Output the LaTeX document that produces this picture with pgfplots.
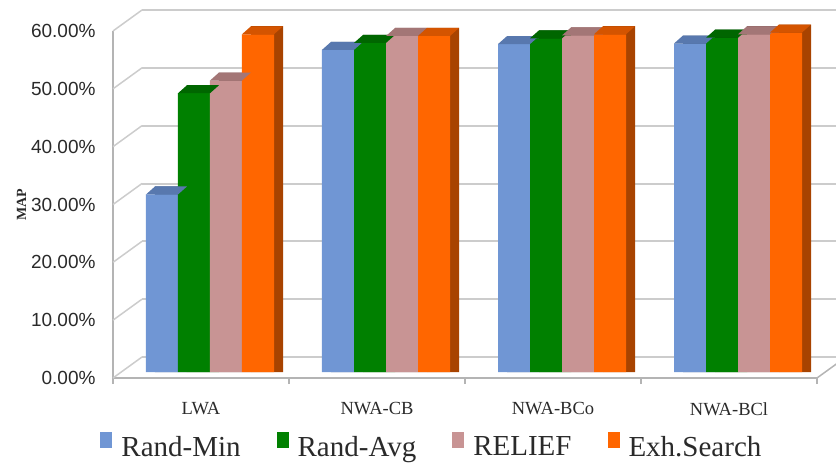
\documentclass[border=0pt]{standalone}
\usepackage{fontspec}
\setmainfont{Liberation Serif}
\newfontfamily\sansf{Liberation Sans}
\usepackage{pgfplots}
\usepackage{pgfplotstable}
\pgfplotsset{compat=1.18}

\definecolor{cA}{HTML}{7096D4}\definecolor{cAt}{HTML}{5878AE}\definecolor{cAs}{HTML}{46628F}
\definecolor{cB}{HTML}{008000}\definecolor{cBt}{HTML}{006600}\definecolor{cBs}{HTML}{004F00}
\definecolor{cC}{HTML}{C89494}\definecolor{cCt}{HTML}{A37676}\definecolor{cCs}{HTML}{8C6060}
\definecolor{cD}{HTML}{FF6600}\definecolor{cDt}{HTML}{D45400}\definecolor{cDs}{HTML}{A84300}
\definecolor{gridc}{HTML}{CCCCCC}
\definecolor{axisc}{HTML}{B4B4B4}
\definecolor{txt}{HTML}{2A2A2A}

\pgfplotstableread{
x rmin ravg relief exh
0 30.7 48.2 50.4 58.4
1 55.7 56.9 58.1 58.1
2 56.7 57.7 58.2 58.4
3 56.8 57.8 58.4 58.7
}\data

\newcommand\declaretop[2]{%
  \pgfdeclareplotmark{#1}{%
    \pgfpathmoveto{\pgfpoint{#2-16bp}{0bp}}%
    \pgfpathlineto{\pgfpoint{#2+16bp}{0bp}}%
    \pgfpathlineto{\pgfpoint{#2+25bp}{8bp}}%
    \pgfpathlineto{\pgfpoint{#2-7bp}{8bp}}%
    \pgfpathclose\pgfusepathqfill}}
\declaretop{topA}{-39bp}
\declaretop{topB}{-7bp}
\declaretop{topC}{25bp}
\declaretop{topD}{57bp}

\pgfplotsset{
  sq/.style={legend image code/.code={\fill[##1] (0bp,-7bp) rectangle (12bp,9bp);}},
  back/.style={ybar, bar width=32bp, draw=none, forget plot, yshift=6bp},
  front/.style={ybar, bar width=32bp, draw=none, yshift=6bp, sq},
  top/.style={only marks, forget plot, yshift=6bp},
}

\begin{document}
\begin{tikzpicture}
\begin{axis}[
  scale only axis, width=704bp, height=347bp,
  xmin=-0.5, xmax=3.5, ymin=0, ymax=60,
  clip=false,
  axis lines*=left,
  axis line style={-, draw=axisc, line width=1.5bp},
  xtick={-0.5,0.5,1.5,2.5,3.5},
  x tick label as interval,
  xticklabels={LWA,NWA-CB,NWA-BCo,NWA-BCl},
  ytick={0,10,20,30,40,50,60},
  ymajorgrids,
  major grid style={draw=gridc, line width=2bp, xshift=29bp, yshift=21bp},
  tick align=outside,
  major tick length=6bp,
  xtick style={draw=axisc, line width=1.5bp},
  ytick style={draw=none},
  yticklabel={\pgfmathprintnumber[fixed,fixed zerofill,precision=2]{\tick}\%},
  yticklabel style={font=\sansf\fontsize{19bp}{22bp}\selectfont, text=txt, xshift=-8bp, /pgf/number format/assume math mode=true},
  xticklabel style={font=\fontsize{18.5bp}{21bp}\selectfont, text=txt, yshift=-15bp},
  ylabel={MAP},
  ylabel style={font=\bfseries\fontsize{14bp}{16bp}\selectfont, text=txt, yshift=-2bp},
  legend columns=4,
  legend style={at={(0.453,0)}, anchor=north, yshift=-52bp, draw=none, fill=none,
    font=\fontsize{29bp}{33bp}\selectfont, text=txt,
    /tikz/every odd column/.style={column sep=7bp},
    /tikz/every even column/.style={column sep=34bp}},
]
\pgfplotsinvokeforeach{0,10,20,30,40,50,60}{\draw[gridc, line width=1.5bp] (axis cs:-0.5,#1) -- ++(29bp,21bp);}
\draw[axisc, line width=1.5bp] (axis cs:3.5,0) -- ++(29bp,21bp);

\addplot[back, bar shift=-30bp, fill=cAs] table[x=x, y expr=\thisrow{rmin}+1.385]{\data};
\addplot[front, bar shift=-39bp, fill=cA] table[x=x, y=rmin]{\data};
\addlegendentry{Rand-Min}
\addplot[top, mark=topA, color=cAt] table[x=x, y=rmin]{\data};

\addplot[back, bar shift=2bp, fill=cBs] table[x=x, y expr=\thisrow{ravg}+1.385]{\data};
\addplot[front, bar shift=-7bp, fill=cB] table[x=x, y=ravg]{\data};
\addlegendentry{Rand-Avg}
\addplot[top, mark=topB, color=cBt] table[x=x, y=ravg]{\data};

\addplot[back, bar shift=34bp, fill=cCs] table[x=x, y expr=\thisrow{relief}+1.385]{\data};
\addplot[front, bar shift=25bp, fill=cC] table[x=x, y=relief]{\data};
\addlegendentry{RELIEF}
\addplot[top, mark=topC, color=cCt] table[x=x, y=relief]{\data};

\addplot[back, bar shift=66bp, fill=cDs] table[x=x, y expr=\thisrow{exh}+1.385]{\data};
\addplot[front, bar shift=57bp, fill=cD] table[x=x, y=exh]{\data};
\addlegendentry{Exh.Search}
\addplot[top, mark=topD, color=cDt] table[x=x, y=exh]{\data};

\coordinate (O) at (rel axis cs:0,0);
\end{axis}
\pgfresetboundingbox
\path ([shift={(-113bp,-87bp)}]O) rectangle ([shift={(723bp,378bp)}]O);
\end{tikzpicture}
\end{document}
